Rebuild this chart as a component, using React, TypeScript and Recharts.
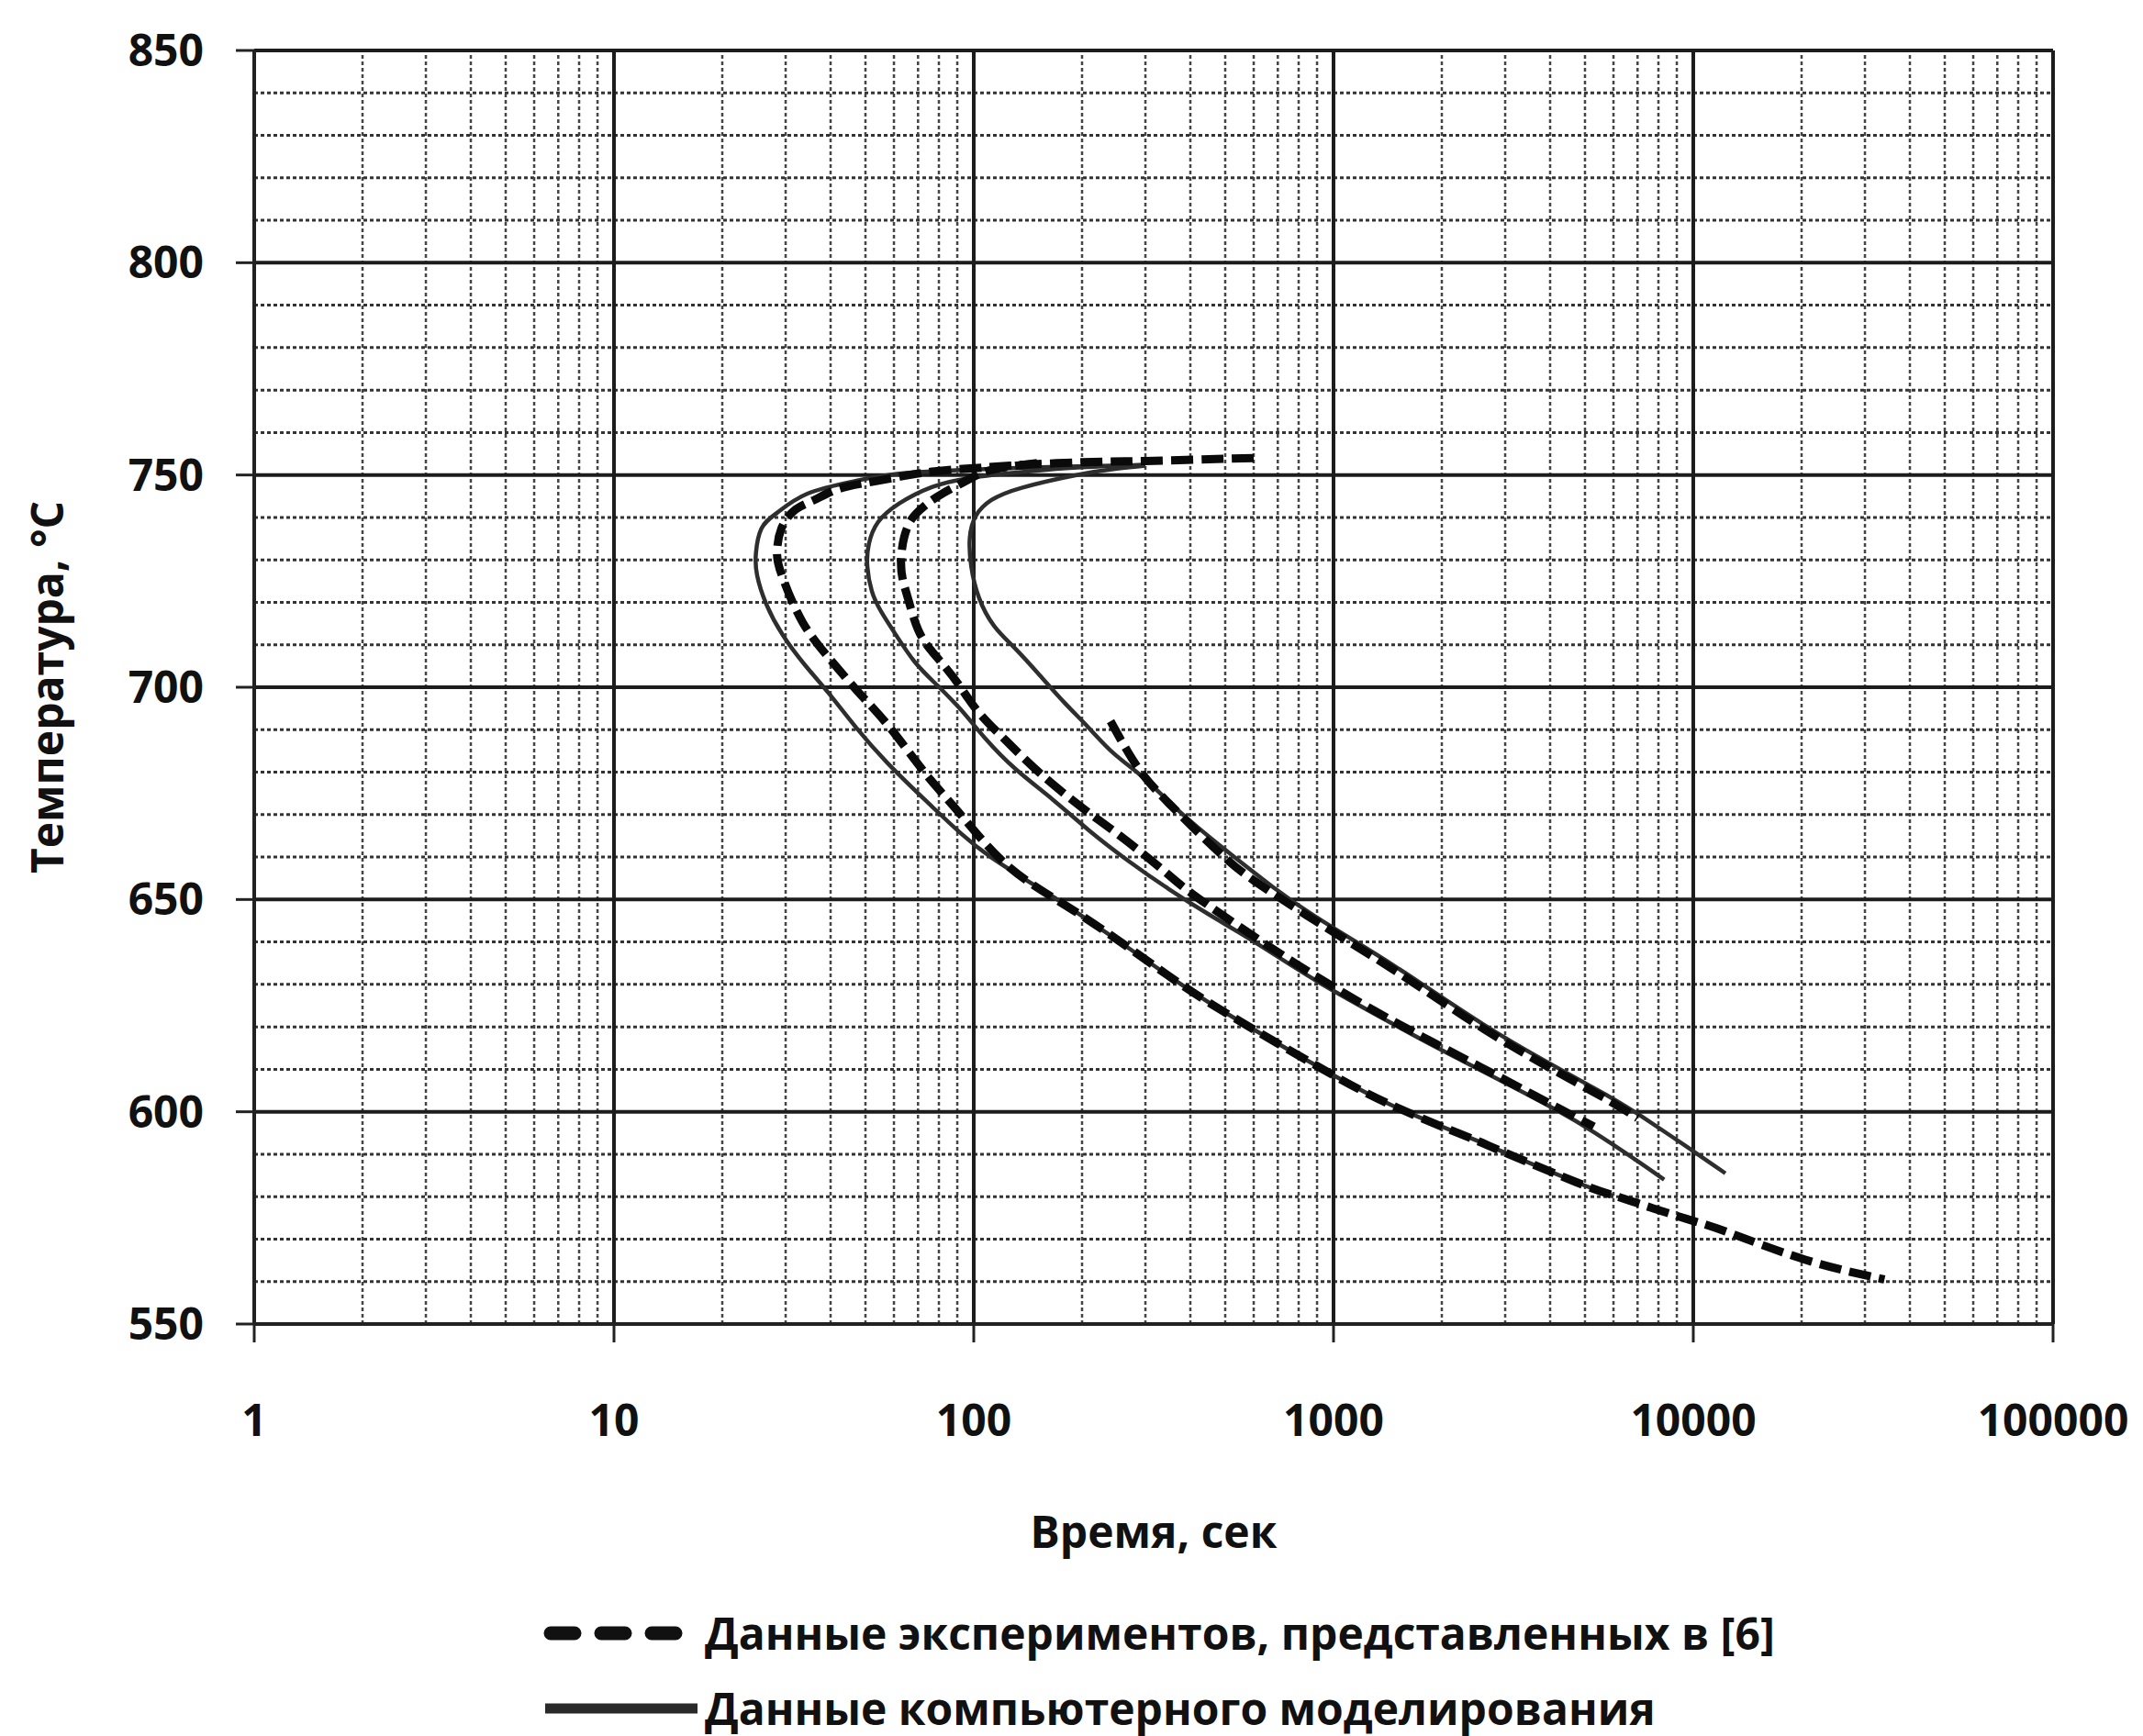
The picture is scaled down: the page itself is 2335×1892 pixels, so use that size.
import React from 'react';
import { LineChart, Line, XAxis, YAxis, ReferenceLine, Legend } from 'recharts';

const FONT = '"Open Sans", "DejaVu Sans", sans-serif';

// axis ticks and grid
const timeTicks = [1, 10, 100, 1000, 10000, 100000];
const tempTicks = [550, 600, 650, 700, 750, 800, 850];
const minorTimeLines = [
  2, 3, 4, 5, 6, 7, 8, 9,
  20, 30, 40, 50, 60, 70, 80, 90,
  200, 300, 400, 500, 600, 700, 800, 900,
  2000, 3000, 4000, 5000, 6000, 7000, 8000, 9000,
  20000, 30000, 40000, 50000, 60000, 70000, 80000, 90000,
];
const minorTempLines = [
  560, 570, 580, 590, 610, 620, 630, 640, 660, 670, 680, 690,
  710, 720, 730, 740, 760, 770, 780, 790, 810, 820, 830, 840,
];

// [time, s ; temperature, °C]
const expOuter: [number, number][] = [
  [600, 754], [450, 753.7], [300, 753.3], [200, 753], [126, 752.2], [100, 751.6],
  [75, 750.7], [53, 748.5], [42, 746.7], [36, 744.1], [32, 741.9], [29.2, 737.4],
  [28.4, 731.2], [29.5, 725.6], [33.5, 715.2], [40.4, 706], [48.2, 698.5],
  [58.6, 690.4], [74, 679.3], [92, 670], [126, 657.5], [197, 646.5], [335, 633],
  [495, 623.6], [890, 611], [1455, 601.5], [2371, 594], [2880, 591], [4700, 583.5],
  [6000, 580.3], [7700, 577.3], [9900, 574.4], [12500, 571.6], [20400, 565.2], [34000, 560.5],
];
const simOuter: [number, number][] = [
  [300, 752.3], [180, 752], [100, 751.3], [62, 750.3], [46.3, 748.5], [34.5, 745.6],
  [28.4, 741.1], [25.7, 737.4], [24.8, 731.5], [25, 726.3], [26.5, 719.6], [29.5, 712.2],
  [33.9, 705.3], [39.6, 698.5], [47.2, 690.4], [57.5, 682.2], [72.7, 673.7], [92, 665.6],
  [112, 659.9], [150, 653], [197, 646.5], [335, 633], [495, 623.6], [890, 611],
  [1455, 601.5], [2371, 594], [2880, 591], [4700, 583.5], [6000, 580.2],
];
const expMiddle: [number, number][] = [
  [150, 752.8], [112, 751.2], [97, 749], [81.7, 745.6], [72.7, 742.6], [67.2, 739.6],
  [64, 735.2], [62.8, 730], [63.4, 725.6], [65.9, 720.4], [69.9, 713.7], [75.6, 709],
  [83.4, 704.7], [91.9, 700], [103.4, 694], [123, 687.4], [153, 679.7], [201, 671.5],
  [255, 665], [335, 657], [407, 651.2], [603, 641.2], [890, 632], [1318, 623.5],
  [1800, 617.3], [2371, 612], [3000, 607.5], [4187, 601], [5290, 596.5],
];
const simMiddle: [number, number][] = [
  [300, 752.4], [200, 751.8], [140, 750.8], [97.5, 749.3], [75.6, 747], [62.1, 743.3],
  [54.2, 738.9], [51.1, 733.7], [50.6, 728.5], [52.1, 722.6], [55.3, 717.8], [60.9, 712.2],
  [68.5, 706], [78.6, 700.7], [91.9, 694.8], [107.5, 688], [130.8, 680.7], [165.5, 673.6],
  [209, 666.3], [270, 659], [348, 652.5], [450, 646.5], [603, 640], [890, 631],
  [1318, 622.8], [1900, 615.5], [3000, 606.8], [4187, 600.3], [5290, 595.2], [6966, 588.5], [8300, 584],
];
const expInner: [number, number][] = [
  [240, 692], [265, 685.5], [298, 679], [350, 672.5], [424, 665.5], [500, 659.8],
  [600, 654.5], [890, 645], [1318, 636], [1767, 629], [2618, 619.5], [3870, 611],
  [5725, 603], [7000, 598.5],
];
const simInner: [number, number][] = [
  [300, 752.2], [250, 751.5], [193, 750], [136, 747], [112, 744.1], [101.4, 740.4],
  [97.5, 735.2], [98.4, 728.5], [103.4, 721.1], [114, 714.4], [130.8, 709], [153, 702.7],
  [179, 696.3], [209, 690.4], [245, 684.4], [298, 678.5], [370, 671], [495, 662],
  [677, 653], [890, 646], [1318, 637], [1767, 630], [2618, 620.5], [3870, 612],
  [5725, 604], [7244, 598.7], [9500, 592], [12280, 585.5],
];

const legendItems = [
  { label: 'Данные экспериментов, представленных в [6]', dashed: true },
  { label: 'Данные компьютерного моделирования', dashed: false },
];

const toPoints = (rows: [number, number][]) => rows.map(([t, T]) => ({ t, T }));

const experiments = [expOuter, expMiddle, expInner];
const simulations = [simOuter, simMiddle, simInner];

const tickStyle = { fontSize: 48, fontWeight: 700, fill: '#111', fontFamily: FONT };

const renderLegend = () => (
  <div style={{ fontFamily: FONT, fontWeight: 700, fontSize: 48, color: '#111', lineHeight: '60px' }}>
    {legendItems.map((item) => (
      <div key={item.label} style={{ display: 'flex', alignItems: 'center', height: 82 }}>
        <svg width={170} height={24}>
          {item.dashed ? (
            <line x1={8} y1={12} x2={150} y2={12} stroke="#111" strokeWidth={15}
              strokeDasharray="26 29" strokeLinecap="round" />
          ) : (
            <line x1={2} y1={12} x2={168} y2={12} stroke="#2a2a2a" strokeWidth={11} />
          )}
        </svg>
        <span style={{ marginLeft: 6, whiteSpace: 'nowrap' }}>{item.label}</span>
      </div>
    ))}
  </div>
);

export default function App() {
  return (
    <div style={{ position: 'absolute', left: 0, top: 0, width: 2335, height: 1892, background: '#fff' }}>
      <LineChart
        width={2335}
        height={1892}
        margin={{ top: 55, right: 98, bottom: 189, left: 47 }}
        style={{ fontFamily: FONT }}
      >
        <XAxis
          dataKey="t"
          type="number"
          scale="log"
          domain={[1, 100000]}
          ticks={timeTicks}
          allowDataOverflow
          height={260}
          tickSize={20}
          tickMargin={68}
          axisLine={{ stroke: '#222', strokeWidth: 3.5 }}
          tickLine={{ stroke: '#222', strokeWidth: 3 }}
          tick={tickStyle}
          label={{
            value: 'Время, сек',
            position: 'insideBottom',
            offset: 16,
            style: { fontSize: 48, fontWeight: 700, fill: '#111', fontFamily: FONT },
          }}
        />
        <YAxis
          dataKey="T"
          type="number"
          domain={[550, 850]}
          ticks={tempTicks}
          allowDataOverflow
          width={230}
          tickSize={20}
          tickMargin={35}
          axisLine={{ stroke: '#222', strokeWidth: 3.5 }}
          tickLine={{ stroke: '#222', strokeWidth: 3 }}
          tick={tickStyle}
          label={{
            value: 'Температура, °С',
            angle: -90,
            position: 'insideLeft',
            offset: 5,
            style: { textAnchor: 'middle', fontSize: 48, fontWeight: 700, fill: '#111', fontFamily: FONT },
          }}
        />

        {minorTempLines.map((v) => (
          <ReferenceLine key={`hm${v}`} y={v} stroke="#333" strokeWidth={3} strokeDasharray="4 3" />
        ))}
        {minorTimeLines.map((v) => (
          <ReferenceLine key={`vm${v}`} x={v} stroke="#444" strokeWidth={2.5} strokeDasharray="4 3" />
        ))}
        {tempTicks.map((v) => (
          <ReferenceLine key={`hM${v}`} y={v} stroke="#1c1c1c" strokeWidth={4} />
        ))}
        {timeTicks.map((v) => (
          <ReferenceLine key={`vM${v}`} x={v} stroke="#1c1c1c" strokeWidth={4} />
        ))}

        {simulations.map((rows, i) => (
          <Line
            key={`sim${i}`}
            data={toPoints(rows)}
            dataKey="T"
            type="natural"
            stroke="#2e2e2e"
            strokeWidth={4.5}
            dot={false}
            activeDot={false}
            legendType="none"
            isAnimationActive={false}
          />
        ))}
        {experiments.map((rows, i) => (
          <Line
            key={`exp${i}`}
            data={toPoints(rows)}
            dataKey="T"
            type="natural"
            stroke="#0a0a0a"
            strokeWidth={9}
            strokeDasharray="24 9"
            dot={false}
            activeDot={false}
            legendType="none"
            isAnimationActive={false}
          />
        ))}

        <Legend
          layout="vertical"
          align="center"
          verticalAlign="middle"
          wrapperStyle={{ top: 1739, left: 592, width: 1500 }}
          content={renderLegend}
        />
      </LineChart>
    </div>
  );
}
